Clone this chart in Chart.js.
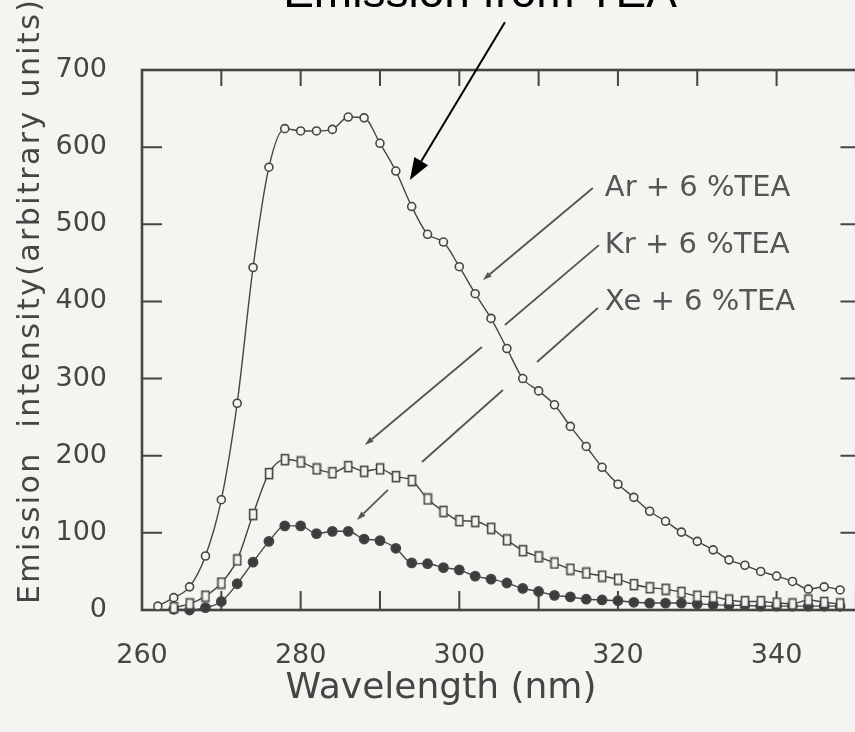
<!DOCTYPE html>
<html>
<head>
<meta charset="utf-8">
<script src="https://cdn.jsdelivr.net/npm/chart.js@4.4.1/dist/chart.umd.min.js"></script>
<style>
  html, body { margin: 0; padding: 0; background: #f4f4f0; overflow: hidden; }
  #wrap { width: 855px; height: 732px; overflow: hidden; }
  #spectrum { display: block; }
</style>
</head>
<body>
<div id="wrap"><canvas id="spectrum" width="870" height="732"></canvas></div>
<script>
// emission spectra, sampled every 2 nm
const wavelengths = [262, 264, 266, 268, 270, 272, 274, 276, 278, 280, 282, 284, 286, 288, 290,
  292, 294, 296, 298, 300, 302, 304, 306, 308, 310, 312, 314, 316, 318, 320, 322, 324, 326,
  328, 330, 332, 334, 336, 338, 340, 342, 344, 346, 348];

const arTea = [5, 16, 30, 70, 143, 268, 444, 574, 624, 621, 621, 623, 639, 638, 605,
  569, 523, 487, 477, 445, 410, 378, 339, 300, 284, 266, 238, 212, 185, 163, 146, 128, 115,
  101, 89, 78, 65, 58, 50, 44, 37, 27, 30, 26];

const krTea = [null, 3, 8, 18, 35, 65, 124, 177, 195, 192, 183, 178, 186, 180, 183,
  173, 168, 144, 128, 116, 115, 106, 91, 77, 69, 61, 53, 48, 44, 40, 33, 29, 27,
  23, 18, 17, 13, 11, 11, 9, 8, 13, 10, 8];

const xeTea = [null, 1, 0, 3, 11, 34, 62, 89, 109, 109, 99, 102, 102, 92, 90,
  80, 61, 60, 55, 52, 44, 40, 35, 28, 24, 19, 17, 14, 13, 12, 10, 9, 9,
  9, 8, 7, 6, 6, 5, 5, 5, 5, 5, 5];

const seriesNames = ['Ar + 6 %TEA', 'Kr + 6 %TEA', 'Xe + 6 %TEA'];
const xLabelStep = 20;

const PAPER = '#f4f4f0';
const INK = '#454545';
const FONT = '"DejaVu Sans", sans-serif';

// curve labels and their leader lines, in wavelength / intensity units
const curveLabels = [
  { text: seriesNames[0], at: [318.35, 537],
    legs: [[[316.84, 547], [302.97, 427.8]]] },
  { text: seriesNames[1], at: [318.35, 463],
    legs: [[[317.6, 473], [305.75, 369.5]], [[302.85, 341], [288.1, 213.9]]] },
  { text: seriesNames[2], at: [318.35, 389],
    legs: [[[317.47, 391.5], [309.8, 321.5]], [[305.5, 285.2], [295.3, 191.9]],
           [[291.0, 155.6], [287.1, 116.7]]] },
];
const teaNote = { text: 'Emission from TEA', from: [305.75, 762], to: [293.77, 557.4] };

function points(values) {
  return wavelengths.map((x, i) => ({ x, y: values[i] })).filter(p => p.y !== null);
}

// tall open rectangle for the Kr markers
function rectMarker(w, h, lw) {
  const c = document.createElement('canvas');
  c.width = w + lw * 2;
  c.height = h + lw * 2;
  const g = c.getContext('2d');
  g.fillStyle = PAPER;
  g.strokeStyle = INK;
  g.lineWidth = lw;
  g.fillRect(lw, lw, w, h);
  g.strokeRect(lw, lw, w, h);
  return c;
}

function arrowHead(ctx, x0, y0, x1, y1, len, half) {
  const a = Math.atan2(y1 - y0, x1 - x0);
  const bx = x1 - len * Math.cos(a), by = y1 - len * Math.sin(a);
  ctx.beginPath();
  ctx.moveTo(x1, y1);
  ctx.lineTo(bx + half * Math.sin(a), by - half * Math.cos(a));
  ctx.lineTo(bx - half * Math.sin(a), by + half * Math.cos(a));
  ctx.closePath();
  ctx.fill();
  return [bx, by];
}

const paper = {
  id: 'paper',
  beforeDraw(chart) {
    const { ctx, width, height } = chart;
    ctx.save();
    ctx.fillStyle = PAPER;
    ctx.fillRect(0, 0, width, height);
    ctx.restore();
  }
};

// box frame with tick marks pointing inwards on all four sides
const frame = {
  id: 'frame',
  beforeDatasetsDraw(chart) {
    const { ctx, chartArea: a, scales: { x, y } } = chart;
    ctx.save();
    ctx.strokeStyle = INK;
    ctx.lineWidth = 2.6;
    ctx.strokeRect(a.left, a.top, a.right - a.left, a.bottom - a.top);
    ctx.lineWidth = 2;
    ctx.beginPath();
    x.ticks.forEach(t => {
      if (t.value % 10 || t.value <= x.min || t.value >= x.max) return;
      const px = x.getPixelForValue(t.value);
      ctx.moveTo(px, a.bottom); ctx.lineTo(px, a.bottom - 19);
      ctx.moveTo(px, a.top); ctx.lineTo(px, a.top + 16);
    });
    y.ticks.forEach(t => {
      if (t.value <= y.min || t.value >= y.max) return;
      const py = y.getPixelForValue(t.value);
      ctx.moveTo(a.left, py); ctx.lineTo(a.left + 20, py);
      ctx.moveTo(a.right, py); ctx.lineTo(a.right - 17, py);
    });
    ctx.stroke();
    ctx.restore();
  }
};

const notes = {
  id: 'notes',
  afterDraw(chart) {
    const { ctx, chartArea: a, scales: { x, y } } = chart;
    const px = p => [x.getPixelForValue(p[0]), y.getPixelForValue(p[1])];
    ctx.save();

    // axis titles
    ctx.fillStyle = INK;
    ctx.font = '36px ' + FONT;
    ctx.textAlign = 'center';
    ctx.textBaseline = 'middle';
    ctx.fillText('Wavelength (nm)', a.left + 299, a.bottom + 79);

    ctx.save();
    ctx.translate(31, a.bottom - 6);
    ctx.rotate(-Math.PI / 2);
    ctx.font = '30px ' + FONT;
    ctx.letterSpacing = '2.4px';
    ctx.textAlign = 'left';
    ctx.fillText('Emission  intensity(arbitrary units)', 0, 0);
    ctx.restore();

    // curve labels with leader lines
    ctx.font = '29px ' + FONT;
    ctx.textAlign = 'left';
    ctx.textBaseline = 'alphabetic';
    ctx.strokeStyle = '#555';
    ctx.fillStyle = '#555';
    ctx.lineWidth = 1.8;
    curveLabels.forEach(lab => {
      const [tx, ty] = px(lab.at);
      ctx.fillText(lab.text, tx, ty);
      lab.legs.forEach((leg, i) => {
        const [x0, y0] = px(leg[0]);
        let [x1, y1] = px(leg[1]);
        if (i === lab.legs.length - 1) [x1, y1] = arrowHead(ctx, x0, y0, x1, y1, 9, 3);
        ctx.beginPath();
        ctx.moveTo(x0, y0);
        ctx.lineTo(x1, y1);
        ctx.stroke();
      });
    });

    // black note at the top with its arrow
    ctx.fillStyle = '#000';
    ctx.strokeStyle = '#000';
    ctx.font = '46px "Liberation Sans", Arial, sans-serif';
    ctx.textAlign = 'center';
    ctx.fillText(teaNote.text, a.left + 338, 7);
    const [f0, f1] = px(teaNote.from);
    const [t0, t1] = px(teaNote.to);
    const [b0, b1] = arrowHead(ctx, f0, f1, t0, t1, 22, 8);
    ctx.lineWidth = 2;
    ctx.beginPath();
    ctx.moveTo(f0, f1);
    ctx.lineTo(b0, b1);
    ctx.stroke();

    ctx.restore();
  }
};

const lineBase = {
  borderColor: INK,
  borderWidth: 1.4,
  pointBorderColor: INK,
  pointBorderWidth: 1.6,
  cubicInterpolationMode: 'monotone',
  clip: false,
};

new Chart(document.getElementById('spectrum'), {
  type: 'line',
  data: {
    datasets: [
      { ...lineBase, label: seriesNames[0], data: points(arTea),
        pointStyle: 'circle', pointRadius: 4, pointBackgroundColor: PAPER },
      { ...lineBase, label: seriesNames[1], data: points(krTea),
        pointStyle: rectMarker(7, 10, 1.6) },
      { ...lineBase, label: seriesNames[2], data: points(xeTea),
        pointStyle: 'circle', pointRadius: 4.6, pointBackgroundColor: '#3c3c3c' },
    ]
  },
  options: {
    responsive: false,
    animation: false,
    devicePixelRatio: 1,
    layout: { padding: { top: 70, right: 12.5, left: 0, bottom: 0 } },
    plugins: { legend: { display: false }, tooltip: { enabled: false } },
    scales: {
      x: {
        type: 'linear', min: 260, max: 350.2,
        // fixed box; the label padding must not push the plot edges inwards
        afterFit: s => { s.height = 122; s.paddingLeft = 0; s.paddingRight = 0; },
        grid: { display: false, drawTicks: false },
        border: { display: false },
        ticks: {
          stepSize: 10, includeBounds: false, autoSkip: false, maxRotation: 0,
          padding: 30, color: INK, font: { family: FONT, size: 27 },
          callback: v => (v % xLabelStep === 0 ? v : '')
        }
      },
      y: {
        min: 0, max: 700,
        afterFit: s => { s.width = 142; },
        grid: { display: false, drawTicks: false },
        border: { display: false },
        ticks: {
          stepSize: 100, padding: 35, color: INK, font: { family: FONT, size: 27 }
        }
      }
    }
  },
  plugins: [paper, frame, notes]
});
</script>
</body>
</html>
